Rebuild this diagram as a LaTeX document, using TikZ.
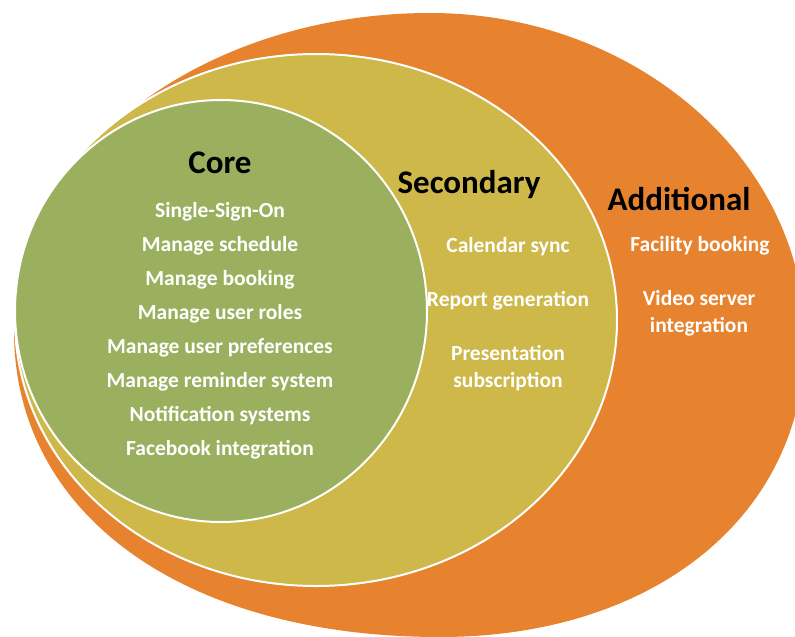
\documentclass[tikz,border=0pt]{standalone}
\usepackage{fontspec}
\setmainfont{Carlito}
\definecolor{orangeC}{HTML}{E7832F}
\definecolor{yellowC}{HTML}{CDB849}
\definecolor{greenC}{HTML}{9BB05F}
\begin{document}
\begin{tikzpicture}[x=1pt,y=-1pt,
  title/.style={font=\bfseries\fontsize{33}{38}\selectfont, text=black, inner sep=0pt},
  item/.style={font=\bfseries\fontsize{21.5}{27}\selectfont, text=white, inner sep=0pt, align=center},
  ring/.style={draw=white, line width=2pt}]
\useasboundingbox (0,0) rectangle (795,637);
\clip (0,0) rectangle (795,637);
% shapes
\coordinate (oL) at (14,331);
\coordinate (oT) at (430,13);
\coordinate (oR) at (805,340);
\coordinate (oB) at (440,637);
\fill[orangeC] (oL) .. controls (14,156) and (201,13) .. (oT)
  .. controls (636,13) and (805,160) .. (oR)
  .. controls (805,515) and (655,637) .. (oB)
  .. controls (184,637) and (14,515) .. (oL) -- cycle;
\filldraw[ring, fill=yellowC] (316,320) ellipse [x radius=301pt, y radius=266pt];
\filldraw[ring, fill=greenC] (221,311) ellipse [x radius=206pt, y radius=211pt];
% titles
\node[title] (core) at (220,163) {Core};
\node[title] (sec) at (469,185) {Secondary};
\node[title] (add) at (679,199) {Additional};
% core items
\node[item] (c1) at (220,212) {Single-Sign-On};
\node[item] (c2) at (220,246) {Manage schedule};
\node[item] (c3) at (220,280) {Manage booking};
\node[item] (c4) at (220,314) {Manage user roles};
\node[item] (c5) at (220,348) {Manage user preferences};
\node[item] (c6) at (220,382) {Manage reminder system};
\node[item] (c7) at (220,416) {Notification systems};
\node[item] (c8) at (220,450) {Facebook integration};
% secondary items
\node[item] (s1) at (508,247) {Calendar sync};
\node[item] (s2) at (508,301) {Report generation};
\node[item] (s3) at (508,368) {Presentation\\subscription};
% additional items
\node[item] (a1) at (700,246) {Facility booking};
\node[item] (a2) at (699,313) {Video server\\integration};
\end{tikzpicture}
\end{document}
